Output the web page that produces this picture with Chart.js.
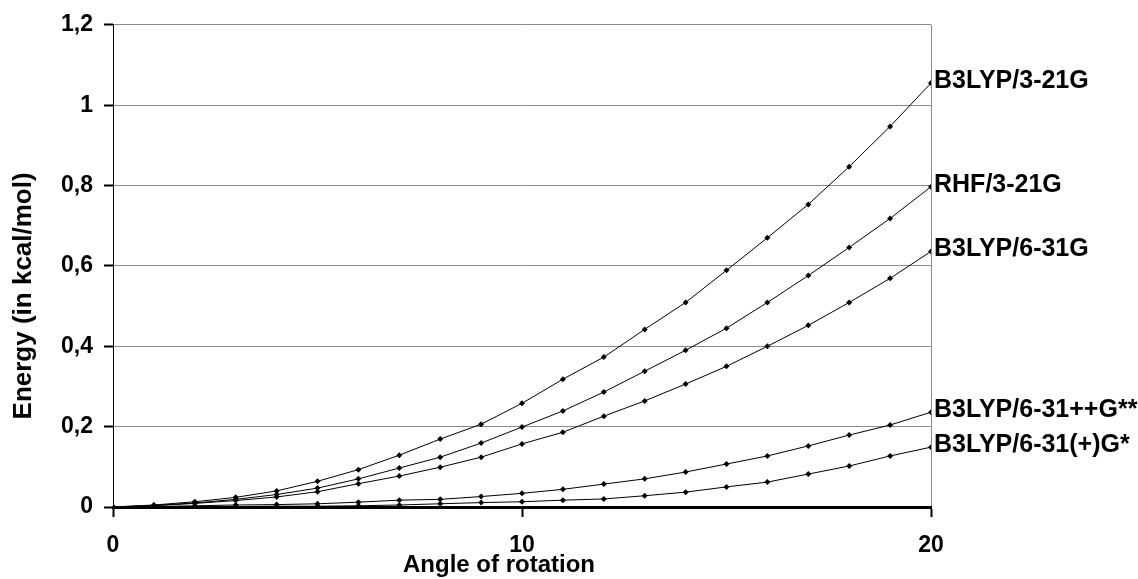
<!DOCTYPE html>
<html>
<head>
<meta charset="utf-8">
<script src="https://cdn.jsdelivr.net/npm/chart.js@4"></script>
<style>
  html, body { margin: 0; padding: 0; background: #fff; }
  #wrap { width: 1138px; height: 579px; }
</style>
</head>
<body>
<div id="wrap"><canvas id="energy"></canvas></div>
<script>
// angle of rotation, 0..20
const angles = [0, 1, 2, 3, 4, 5, 6, 7, 8, 9, 10, 11, 12, 13, 14, 15, 16, 17, 18, 19, 20];

const seriesNames = ["B3LYP/3-21G", "RHF/3-21G", "B3LYP/6-31G", "B3LYP/6-31++G**", "B3LYP/6-31(+)G*"];

const b3lyp321 = [0, 0.005, 0.013, 0.024, 0.040, 0.064, 0.093, 0.129, 0.169, 0.206, 0.258,
  0.318, 0.373, 0.442, 0.509, 0.589, 0.670, 0.753, 0.847, 0.947, 1.055];
const rhf321 = [0, 0.004, 0.010, 0.019, 0.031, 0.047, 0.070, 0.097, 0.124, 0.159, 0.199,
  0.239, 0.286, 0.338, 0.390, 0.445, 0.509, 0.576, 0.646, 0.718, 0.797];
const b3lyp631 = [0, 0.003, 0.009, 0.016, 0.025, 0.038, 0.058, 0.077, 0.099, 0.124, 0.157,
  0.186, 0.226, 0.264, 0.306, 0.350, 0.400, 0.452, 0.509, 0.569, 0.636];
const b3lyp631ppgss = [0, 0.001, 0.003, 0.005, 0.006, 0.008, 0.012, 0.017, 0.019, 0.026, 0.034,
  0.044, 0.057, 0.070, 0.087, 0.107, 0.127, 0.152, 0.179, 0.204, 0.236];
const b3lyp631pgs = [0, 0, 0.001, 0.001, 0.002, 0.002, 0.003, 0.005, 0.008, 0.011, 0.013,
  0.017, 0.020, 0.028, 0.037, 0.050, 0.062, 0.082, 0.102, 0.127, 0.149];

const yTicks = [0, 0.2, 0.4, 0.6, 0.8, 1, 1.2];
const xTicks = [0, 10, 20];

const xTitle = "Angle of rotation";
const yTitle = "Energy (in kcal/mol)";

const allSeries = [b3lyp321, rhf321, b3lyp631, b3lyp631ppgss, b3lyp631pgs];

const FONT = "'Liberation Sans', Arial, sans-serif";

function toPoints(values) {
  return values.map((v, i) => ({ x: angles[i], y: v }));
}

// curve names at the right end + the two axis titles
const textLayer = {
  id: "textLayer",
  afterDatasetsDraw(chart) {
    const ctx = chart.ctx;
    const area = chart.chartArea;
    ctx.save();
    ctx.fillStyle = "#000";
    ctx.font = "bold 25px " + FONT;
    ctx.textAlign = "left";
    ctx.textBaseline = "middle";
    chart.data.datasets.forEach((ds, i) => {
      const pts = chart.getDatasetMeta(i).data;
      const last = pts[pts.length - 1];
      ctx.fillText(ds.label, last.x + 3, last.y - 2);
    });

    // x title, a bit left of the centre like the original
    ctx.font = "bold 24px " + FONT;
    ctx.textAlign = "center";
    ctx.fillText(xTitle, (area.left + area.right) / 2 - 23, chart.height - 14);

    // y title, rotated
    ctx.font = "bold 26px " + FONT;
    ctx.translate(24, (area.top + area.bottom) / 2 + 30);
    ctx.rotate(-Math.PI / 2);
    ctx.fillText(yTitle, 0, 0);
    ctx.restore();
  },
};

const ctx = document.getElementById("energy").getContext("2d");

const energyChart = new Chart(ctx, {
  type: "line",
  data: {
    datasets: allSeries.map((s, i) => ({
      label: seriesNames[i],
      data: toPoints(s),
      borderColor: "#000",
      borderWidth: 1,
      backgroundColor: "#000",
      pointStyle: "rectRot",
      pointRadius: 3,
      pointBorderWidth: 0,
      tension: 0,
    })),
  },
  options: {
    responsive: true,
    maintainAspectRatio: false,
    animation: false,
    layout: {
      padding: { top: 24, right: 207, left: 0, bottom: 0 },
    },
    plugins: {
      legend: { display: false },
      tooltip: { enabled: false },
    },
    scales: {
      x: {
        type: "linear",
        min: 0,
        max: 20,
        afterBuildTicks: (axis) => {
          axis.ticks = xTicks.map((v) => ({ value: v }));
        },
        afterFit: (axis) => {
          axis.height = 72;
        },
        ticks: {
          color: "#000",
          padding: 15,
          font: { family: FONT, size: 23, weight: "bold" },
        },
        grid: {
          color: (c) => (c.tick && c.tick.value === 20 ? "#8a8a8a" : "rgba(0,0,0,0)"),
          lineWidth: 1,
          tickColor: "#000",
          tickLength: 10,
          tickWidth: 2,
        },
        border: { color: "#000", width: 3 },
      },
      y: {
        min: 0,
        max: 1.2,
        afterBuildTicks: (axis) => {
          axis.ticks = yTicks.map((v) => ({ value: v }));
        },
        afterFit: (axis) => {
          axis.width = 113;
        },
        ticks: {
          color: "#000",
          padding: 11,
          font: { family: FONT, size: 23, weight: "bold" },
          callback: (v) => String(Math.round(v * 10) / 10).replace(".", ","),
        },
        grid: {
          color: "#8a8a8a",
          lineWidth: 1,
          tickColor: "#000",
          tickLength: 9,
          tickWidth: 2,
        },
        border: { color: "#000", width: 1 },
      },
    },
  },
  plugins: [textLayer],
});
</script>
</body>
</html>
